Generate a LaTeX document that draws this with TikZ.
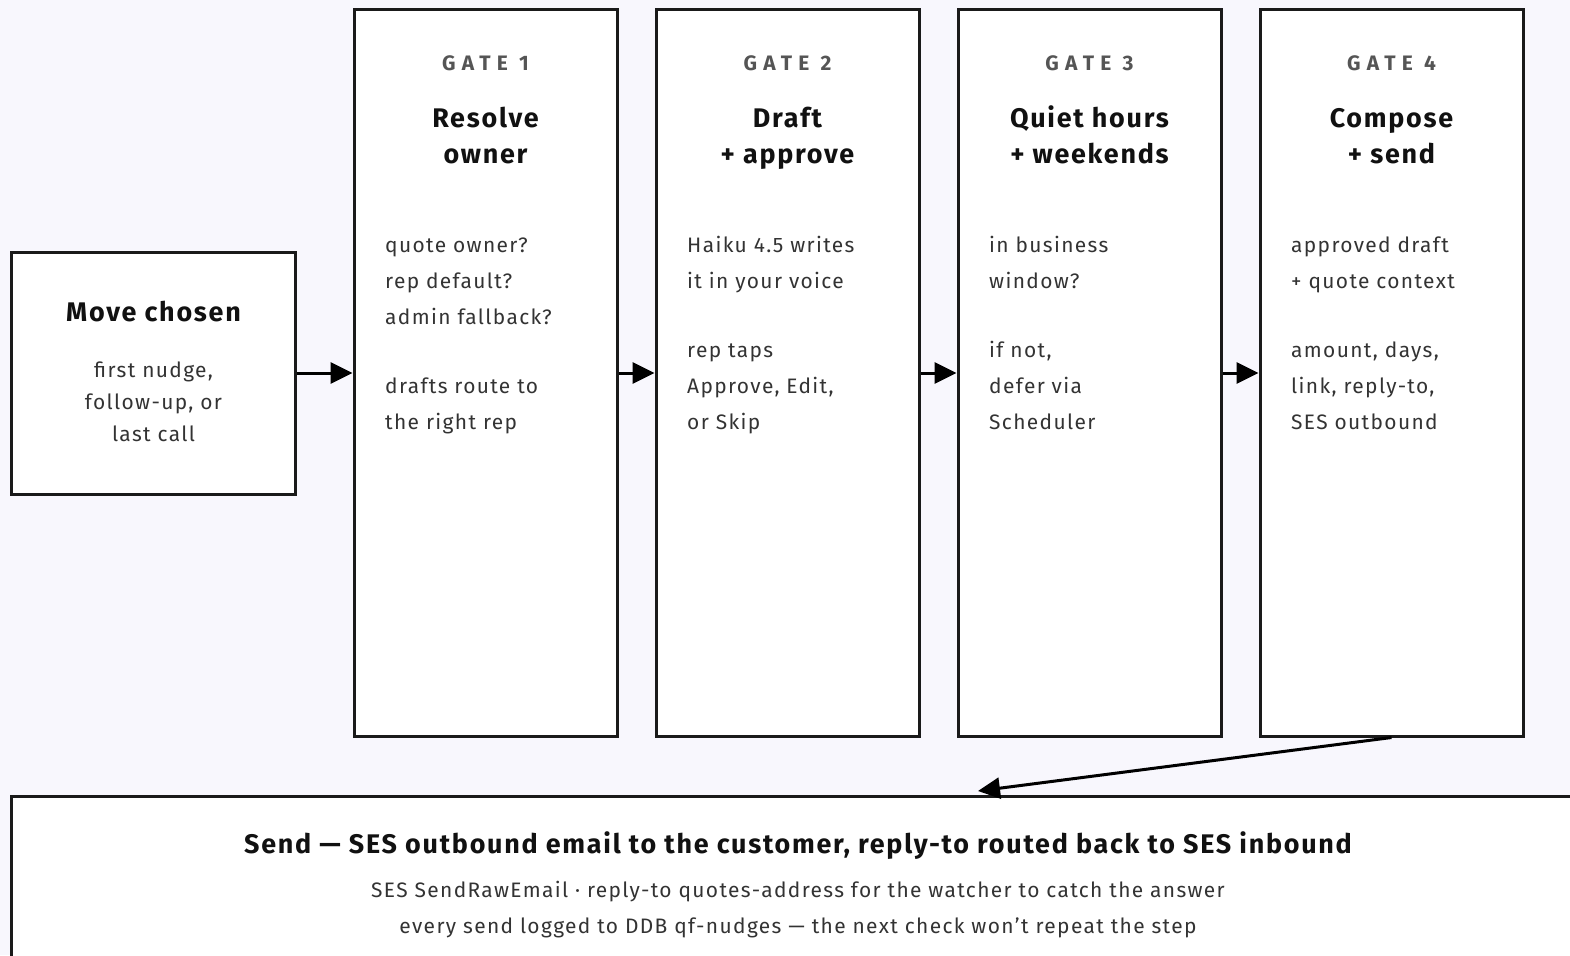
\documentclass[tikz,border=0pt]{standalone}
\usepackage{fontspec}
\setmainfont{Fira Sans}[LetterSpace=6.5]
\newfontfamily\gatefont[LetterSpace=30]{Fira Sans}
\usepackage{xcolor}
\usetikzlibrary{arrows.meta,positioning}

\definecolor{pagebg}{HTML}{F8F7FD}
\definecolor{boxline}{HTML}{1A1A1A}
\definecolor{titleink}{HTML}{111111}
\definecolor{bodyink}{HTML}{333333}
\definecolor{gateink}{HTML}{555555}

\begin{document}
\begin{tikzpicture}[x=1bp,y=-1bp,>={Triangle[length=22bp,width=21bp]},line join=miter,
  box/.style={draw=boxline,fill=white,line width=3bp,inner sep=0pt},
  gatebox/.style={box,minimum width=263bp,minimum height=726bp},
  conn/.style={draw=black,line width=3bp},
  gatelbl/.style={anchor=base,inner sep=0pt,text=gateink,font=\gatefont\bfseries\fontsize{21}{24}\selectfont},
  gtitle/.style={anchor=north,inner sep=0pt,align=center,text=titleink,font=\bfseries\fontsize{27}{36.5}\selectfont},
  note/.style={anchor=north west,inner sep=0pt,align=left,text=bodyink,font=\fontsize{21}{36.2}\selectfont}]
  % page
  \fill[pagebg] (0,0) rectangle (1570,955);
  \useasboundingbox (0,0) rectangle (1570,955);
  \clip (0,0) rectangle (1570,955);

  % boxes
  \node[box,minimum width=283bp,minimum height=242bp] (move) at (153.5,373) {};
  \node[gatebox] (g1) at (485.5,373) {};
  \node[gatebox] (g2) at (787.5,373) {};
  \node[gatebox] (g3) at (1089.5,373) {};
  \node[gatebox] (g4) at (1391.5,373) {};
  \node[box,minimum width=1572bp,minimum height=304bp] (send) at (798,948) {};

  % start
  \node[anchor=base,inner sep=0pt,text=titleink,font=\bfseries\fontsize{27}{36}\selectfont] (movettl) at (153.5,321) {Move chosen};
  \node[note,anchor=north,align=center,font=\fontsize{21}{32.2}\selectfont] (movetxt) at (153.5,355)
    {\strut first nudge,\\follow-up, or\\last call};

  % gate 1
  \node[gatelbl] (g1lbl) at (485.5,70) {GATE 1};
  \node[gtitle] (g1ttl) at (485.5,101.5) {\strut Resolve\\owner};
  \node[note] (g1txt) at (385,226.8)
    {\strut quote owner?\\rep default?\\admin fallback?\\[33bp]drafts route to\\the right rep};

  % gate 2
  \node[gatelbl] (g2lbl) at (787.5,70) {GATE 2};
  \node[gtitle] (g2ttl) at (787.5,101.5) {\strut Draft\\+ approve};
  \node[note] (g2txt) at (687,226.8)
    {\strut Haiku 4.5 writes\\it in your voice\\[33bp]rep taps\\Approve, Edit,\\or Skip};

  % gate 3
  \node[gatelbl] (g3lbl) at (1089.5,70) {GATE 3};
  \node[gtitle] (g3ttl) at (1089.5,101.5) {\strut Quiet hours\\+ weekends};
  \node[note] (g3txt) at (989,226.8)
    {\strut in business\\window?\\[33bp]if not,\\defer via\\Scheduler};

  % gate 4
  \node[gatelbl] (g4lbl) at (1391.5,70) {GATE 4};
  \node[gtitle] (g4ttl) at (1391.5,101.5) {\strut Compose\\+ send};
  \node[note] (g4txt) at (1291,226.8)
    {\strut approved draft\\+ quote context\\[33bp]amount, days,\\link, reply-to,\\SES outbound};

  % send
  \node[anchor=base,inner sep=0pt,text=titleink,font=\bfseries\fontsize{27}{36}\selectfont] (sendttl) at (798,853)
    {Send — SES outbound email to the customer, reply-to routed back to SES inbound};
  \node[note,anchor=north,align=center] (sendtxt) at (798,872)
    {\strut SES SendRawEmail · reply-to quotes-address for the watcher to catch the answer\\every send logged to DDB qf-nudges — the next check won’t repeat the step};

  % connectors
  \draw[conn,->] (move) -- (g1);
  \draw[conn,->] (g1) -- (g2);
  \draw[conn,->] (g2) -- (g3);
  \draw[conn,->] (g3) -- (g4);
  \coordinate (sendin) at (978,791);
  \draw[conn,->] (g4.south) -- (sendin);
\end{tikzpicture}
\end{document}
